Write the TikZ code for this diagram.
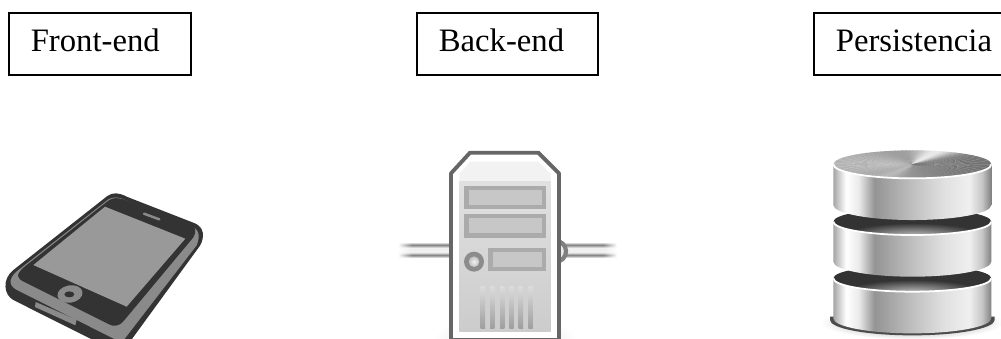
\documentclass[tikz,border=0pt]{standalone}
\usepackage{fontspec}
\setmainfont{Liberation Serif}
\usetikzlibrary{positioning,fadings}

\definecolor{phonedark}{HTML}{333333}
\definecolor{phonerim}{HTML}{8A8A8A}
\definecolor{phonescreen}{HTML}{999999}
\definecolor{serverline}{HTML}{666666}
\definecolor{serverbay}{HTML}{ABABAB}

\pgfdeclarehorizontalshading{drumside}{100bp}{color(0bp)=(black!35); color(25bp)=(black!35); color(29bp)=(white); color(33bp)=(black!8); color(38bp)=(black!42); color(50bp)=(black!25); color(60bp)=(black!12); color(68bp)=(black!6); color(72bp)=(black!22); color(75bp)=(black!50); color(100bp)=(black!50)}
\pgfdeclareverticalshading{cablefade}{100bp}{color(0bp)=(white); color(25bp)=(white); color(34bp)=(black!50); color(43bp)=(black!6); color(57bp)=(black!6); color(66bp)=(black!50); color(75bp)=(white); color(100bp)=(white)}

\tikzset{
  labelbox/.style={draw=black, line width=0.45pt, text height=0.39cm, text depth=0.23cm, inner xsep=0.22cm, inner ysep=0pt, align=left, anchor=north west, font=\fontsize{9.3}{11}\selectfont},
  drumface/.style={shading=drumside},
  zoomed/.style={scale=1/3}
}

\begin{document}
\begin{tikzpicture}[x=0.01cm, y=-0.01cm]
        \path[use as bounding box, clip] (0,0) rectangle (1001,338);

        \node[labelbox, text width=1.38cm] (frontend) at (8,12) {Front-end};
        \node[labelbox, text width=1.37cm] (backend) at (416,12) {Back-end};
        \node[labelbox, text width=1.60cm] (persistencia) at (813,12) {Persistencia};

        % phone
        \begin{scope}[shift={(0,180)}, zoomed]
          \fill[phonedark] (322,48) .. controls (338,36) and (358,38) .. (380,50) -- (585,130) .. controls (612,142) and (615,170) .. (600,197) -- (363,522) -- (40,360) .. controls (12,345) and (5,298) .. (40,270) -- cycle;
          \fill[phonerim] (325,58) .. controls (340,50) and (355,50) .. (375,60) -- (570,136) .. controls (597,147) and (602,165) .. (590,196) -- (365,488) -- (55,332) .. controls (28,320) and (22,300) .. (50,274) -- cycle;
          \fill[phonedark] (325,62) .. controls (340,52) and (352,53) .. (370,58) -- (565,128) .. controls (590,138) and (590,155) .. (580,172) -- (370,424) .. controls (355,440) and (340,440) .. (325,432) -- (75,307) .. controls (48,294) and (48,285) .. (70,263) -- cycle;
          \fill[phonescreen] (315,80) -- (556,176) -- (380,380) -- (100,255) -- cycle;
          \draw[phonerim, line width=0.7pt, line cap=round] (432,101) -- (478,118);
          \fill[phonerim] (210,342) circle [x radius=38, y radius=26, rotate=10];
          \fill[phonedark] (208,343) circle [x radius=15, y radius=9];
          \fill[phonerim] (107,366) -- (230,419) -- (226,436) -- (105,381) -- cycle;
        \end{scope}

        % server
        \begin{scope}[shift={(390,140)}, zoomed]
          \shade[inner color=black!14, outer color=white] (345,600) circle [x radius=215, y radius=75];
          \shade[shading=cablefade] (25,306) rectangle (183,354);
          \shade[shading=cablefade] (507,306) rectangle (680,354);
          \fill[white, path fading=east] (24,304) rectangle (65,356);
          \fill[white, path fading=west] (640,304) rectangle (681,356);
          \draw[black!50, line width=1.2pt, fill=black!8] (507,304) arc (-70:70:32 and 32);
          \fill[white, draw=serverline, line width=1.1pt, line join=round]
            (240,38) -- (445,38) -- (507,100) -- (507,600) -- (183,600) -- (183,100) -- cycle;
          \fill[black!5] (240,65) -- (445,65) -- (482,102) -- (482,125) -- (208,125) -- (208,102) -- cycle;
          \shade[top color=black!12, bottom color=black!20] (208,125) rectangle (482,575);
          \foreach \y in {137,222} {
            \fill[serverbay] (222,\y) rectangle (468,{\y+71});
            \fill[black!22] (237,{\y+13}) rectangle (455,{\y+58});
          }
          \fill[serverbay] (295,323) rectangle (468,393);
          \fill[black!22] (310,336) rectangle (455,381);
          \fill[black!45] (252,365) circle [radius=30];
          \shade[inner color=black!5, outer color=black!25] (252,365) circle [radius=16];
          \foreach \x in {272,300,330,358,386,415} {
            \shade[top color=black!14, bottom color=black!38] (\x,440) rectangle ({\x+13},565);
          }
        \end{scope}

        % database
        \begin{scope}[shift={(810,140)}, zoomed]
          \shade[inner color=black!45, outer color=white] (307,548) circle [x radius=275, y radius=50];
          \fill[black!70] (60,530) -- (60,540) arc (180:0:247 and 46) -- (554,530) -- cycle;
          \foreach \y in {415,245} {
            \fill[black!80] (307,\y) circle [x radius=237, y radius=40];
            \shade[inner color=black!25, outer color=black!80] (310,{\y+42}) circle [x radius=210, y radius=38];
            \shade[drumface] (70,\y) -- (70,{\y+120}) arc (180:0:237 and 45) -- (544,\y) arc (0:180:237 and 40) -- cycle;
            \draw[white, line width=0.5pt] (70,\y) arc (180:0:237 and 40);
          }
          \shade[drumface] (70,73) -- (70,195) arc (180:0:237 and 45) -- (544,73) arc (0:180:237 and 42) -- cycle;
          \begin{scope}
            \clip (307,73) circle [x radius=237, y radius=42];
            \foreach \a in {0,3,...,357} {
              \pgfmathsetmacro{\g}{42+13*cos(\a)-38*exp(-((\a-290)/18)^2)-10*exp(-((\a-110)/12)^2)}
              \fill[black!\g] (307,73) -- ({307+300*cos(\a)},{73+60*sin(\a)}) -- ({307+300*cos(\a+4)},{73+60*sin(\a+4)}) -- cycle;
            }
          \end{scope}
          \draw[white, line width=0.5pt] (70,73) arc (180:0:237 and 42);
        \end{scope}
      \end{tikzpicture}
\end{document}
